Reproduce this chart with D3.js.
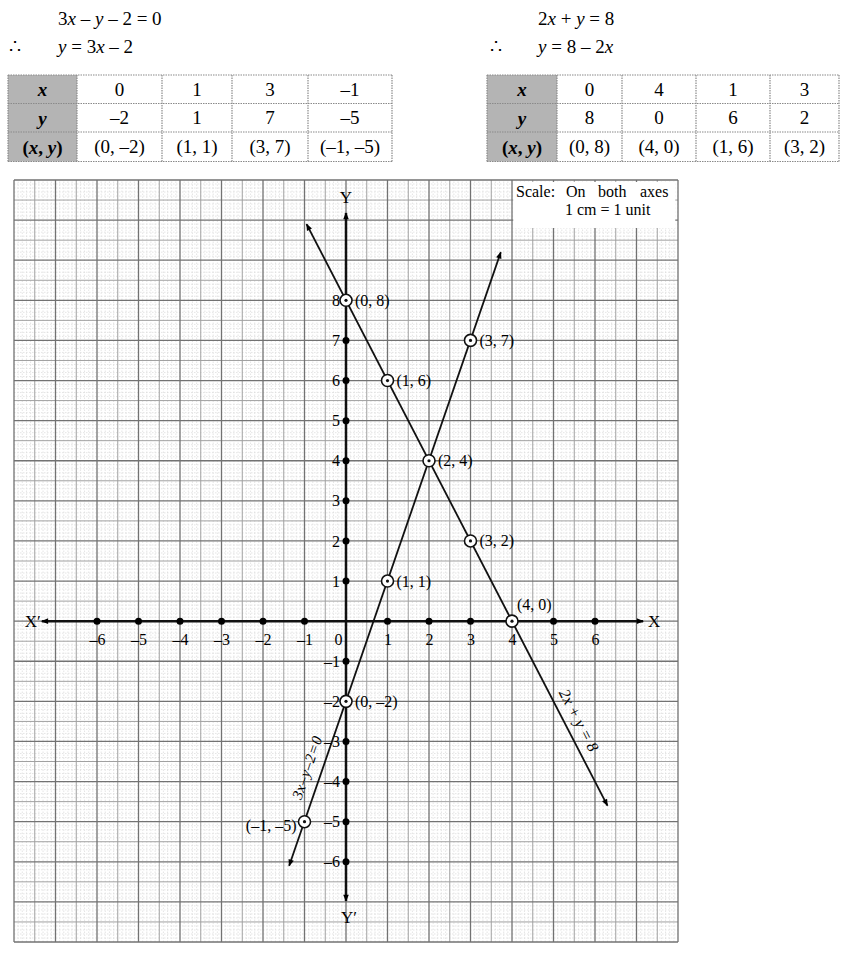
<!DOCTYPE html>
<html><head><meta charset="utf-8">
<script src="https://cdn.jsdelivr.net/npm/d3@7"></script>
<style>
body{margin:0;background:#fff;}
svg{display:block;font-family:"Liberation Serif","Times New Roman",serif;}
</style></head><body>
<svg id="c" width="864" height="955"></svg>
<script>
// ---------- data ----------
const eqLeft = ["3x – y – 2 = 0", "y = 3x – 2"];
const eqRight = ["2x + y = 8", "y = 8 – 2x"];
const rowHeaders = ["x", "y", "(x, y)"];
const table1X = [0, 1, 3, -1];
const table1Y = [-2, 1, 7, -5];
const table2X = [0, 4, 1, 3];
const table2Y = [8, 0, 6, 2];
const xTicks = [-6, -5, -4, -3, -2, -1, 0, 1, 2, 3, 4, 5, 6];
const yTicks = [-6, -5, -4, -3, -2, -1, 1, 2, 3, 4, 5, 6, 7, 8];
const line1Ends = [[-1.37, -6.1], [3.73, 9.2]];   // 3x - y - 2 = 0
const line2Ends = [[-0.95, 9.9], [6.3, -4.6]];    // 2x + y = 8
const line1Label = "3x – y – 2 = 0";
const line2Label = "2x + y = 8";
const plotted = [[0, 8], [1, 6], [3, 7], [2, 4], [3, 2], [1, 1], [4, 0], [0, -2], [-1, -5]];
const xAxisExtent = [-7.33, 7.16];
const yAxisExtent = [-6.98, 10.18];
const scaleText = ["Scale:", "On", "both", "axes"];
const scaleText2 = "1 cm = 1 unit";

// ---------- layout ----------
const fmt = v => v < 0 ? "–" + Math.abs(v) : String(v);
const svg = d3.select("#c");
const x = d3.scaleLinear().domain([-8, 8]).range([14, 678]);
const y = d3.scaleLinear().domain([-8, 11]).range([942, 180]);

function rich(sel, str) {
  str.split(/([xy])/).forEach(p => {
    if (!p) return;
    const t = sel.append("tspan").text(p);
    if (/^[xy]$/.test(p)) t.attr("font-style", "italic");
  });
}

// equations at top
const eqFont = 19;
function eqBlock(lines, therefX, textX) {
  const t1 = svg.append("text").attr("x", textX).attr("y", 25).attr("font-size", eqFont);
  rich(t1, lines[0]);
  svg.append("text").attr("x", therefX).attr("y", 53).attr("font-size", eqFont).text("∴");
  const t2 = svg.append("text").attr("x", textX).attr("y", 53).attr("font-size", eqFont);
  rich(t2, lines[1]);
}
eqBlock(eqLeft, 9, 58);
eqBlock(eqRight, 490, 538);

// tables
function drawTable(xs, ys, colEdges) {
  const rowEdges = [75, 103.5, 132, 161.5];
  const gT = svg.append("g");
  gT.append("rect").attr("x", colEdges[0]).attr("y", rowEdges[0])
    .attr("width", colEdges[1] - colEdges[0]).attr("height", rowEdges[3] - rowEdges[0])
    .attr("fill", "#b4b4b4");
  colEdges.forEach(cx => gT.append("line").attr("x1", cx).attr("x2", cx)
    .attr("y1", rowEdges[0]).attr("y2", rowEdges[3])
    .attr("stroke", "#8a8a8a").attr("stroke-width", 1.2).attr("stroke-dasharray", "1.5,1"));
  rowEdges.forEach(ry => gT.append("line").attr("x1", colEdges[0]).attr("x2", colEdges[colEdges.length - 1])
    .attr("y1", ry).attr("y2", ry)
    .attr("stroke", "#8a8a8a").attr("stroke-width", 1.2).attr("stroke-dasharray", "1.5,1"));
  const rows = [xs.map(fmt), ys.map(fmt), xs.map((v, i) => "(" + fmt(v) + ", " + fmt(ys[i]) + ")")];
  rows.forEach((r, ri) => {
    const cy = (rowEdges[ri] + rowEdges[ri + 1]) / 2;
    const h = gT.append("text").attr("x", (colEdges[0] + colEdges[1]) / 2).attr("y", cy)
      .attr("text-anchor", "middle").attr("dominant-baseline", "central")
      .attr("font-size", 19).attr("font-weight", "bold");
    rich(h, rowHeaders[ri]);
    r.forEach((s, ci) => {
      gT.append("text").attr("x", (colEdges[ci + 1] + colEdges[ci + 2]) / 2).attr("y", cy)
        .attr("text-anchor", "middle").attr("dominant-baseline", "central")
        .attr("font-size", 19).text(s);
    });
  });
}
drawTable(table1X, table1Y, [8, 77, 162, 232, 308, 392]);
drawTable(table2X, table2Y, [487, 557, 622, 696, 770, 839]);

// grid
const grid = svg.append("g");
const vIdx = d3.range(-80, 81), hIdx = d3.range(-80, 111);
const lvl = d => d % 10 === 0 ? 2 : (d % 5 === 0 ? 1 : 0);
const stroke = ["#dadada", "#a0a0a0", "#727272"];
const sw = [0.7, 1, 1.3];
[0, 1, 2].forEach(L => {
  grid.selectAll(null).data(vIdx.filter(d => lvl(d) === L)).join("line")
    .attr("x1", d => x(d / 10)).attr("x2", d => x(d / 10))
    .attr("y1", y(-8)).attr("y2", y(11))
    .attr("stroke", stroke[L]).attr("stroke-width", sw[L])
    .attr("stroke-dasharray", L === 0 ? "1.5,1.5" : null);
  grid.selectAll(null).data(hIdx.filter(d => lvl(d) === L)).join("line")
    .attr("y1", d => y(d / 10)).attr("y2", d => y(d / 10))
    .attr("x1", x(-8)).attr("x2", x(8))
    .attr("stroke", stroke[L]).attr("stroke-width", sw[L])
    .attr("stroke-dasharray", L === 0 ? "1.5,1.5" : null);
});

// scale box
svg.append("rect").attr("x", x(4.03)).attr("y", y(10.95)).attr("width", 162).attr("height", 46).attr("fill", "#fff");
const sPos = [516, 566, 598, 640];
scaleText.forEach((s, i) => svg.append("text").attr("x", sPos[i]).attr("y", 197).attr("font-size", 16).text(s));
svg.append("text").attr("x", 565).attr("y", 215).attr("font-size", 16).text(scaleText2);

// markers
const defs = svg.append("defs");
defs.append("marker").attr("id", "ah").attr("viewBox", "0 0 10 10").attr("refX", 9).attr("refY", 5)
  .attr("markerWidth", 9).attr("markerHeight", 7).attr("markerUnits", "userSpaceOnUse")
  .attr("orient", "auto-start-reverse")
  .append("path").attr("d", "M0,1L10,5L0,9Z").attr("fill", "#000");

// axes lines
svg.append("line").attr("x1", x(xAxisExtent[0])).attr("x2", x(xAxisExtent[1])).attr("y1", y(0)).attr("y2", y(0))
  .attr("stroke", "#111").attr("stroke-width", 2.5)
  .attr("marker-start", "url(#ah)").attr("marker-end", "url(#ah)");
svg.append("line").attr("y1", y(yAxisExtent[0])).attr("y2", y(yAxisExtent[1])).attr("x1", x(0)).attr("x2", x(0))
  .attr("stroke", "#111").attr("stroke-width", 2.5)
  .attr("marker-start", "url(#ah)").attr("marker-end", "url(#ah)");

// axis labels
svg.append("text").attr("x", x(xAxisExtent[0]) - 9).attr("y", y(0)).attr("text-anchor", "middle")
  .attr("dominant-baseline", "central").attr("font-size", 17).text("X′");
svg.append("text").attr("x", x(xAxisExtent[1]) + 11).attr("y", y(0)).attr("text-anchor", "middle")
  .attr("dominant-baseline", "central").attr("font-size", 17).text("X");
svg.append("text").attr("x", x(0)).attr("y", y(yAxisExtent[1]) - 15).attr("text-anchor", "middle")
  .attr("dominant-baseline", "central").attr("font-size", 17).text("Y");
svg.append("text").attr("x", x(0) + 3).attr("y", y(yAxisExtent[0]) + 16).attr("text-anchor", "middle")
  .attr("dominant-baseline", "central").attr("font-size", 17).text("Y′");

// tick labels through d3 axes
const xAxisG = svg.append("g").attr("transform", `translate(0,${y(0)})`)
  .call(d3.axisBottom(x).tickValues(xTicks).tickSize(0).tickPadding(12).tickFormat(fmt));
xAxisG.select(".domain").remove();
xAxisG.selectAll("text").attr("font-size", 16).attr("font-family", "Liberation Serif").attr("fill", "#000")
  .attr("dx", d => d === 0 ? -8 : 0);
const yAxisG = svg.append("g").attr("transform", `translate(${x(0)},0)`)
  .call(d3.axisLeft(y).tickValues(yTicks).tickSize(0).tickPadding(6).tickFormat(fmt));
yAxisG.select(".domain").remove();
yAxisG.selectAll("text").attr("font-size", 16).attr("font-family", "Liberation Serif").attr("fill", "#000");

// tick dots
svg.selectAll(null).data(xTicks.filter(d => d !== 0)).join("circle")
  .attr("cx", d => x(d)).attr("cy", y(0)).attr("r", 3.5).attr("fill", "#000");
svg.selectAll(null).data(yTicks).join("circle")
  .attr("cx", x(0)).attr("cy", d => y(d)).attr("r", 3.5).attr("fill", "#000");

// graph lines
const lineGen = d3.line().x(d => x(d[0])).y(d => y(d[1]));
[line1Ends, line2Ends].forEach(e => svg.append("path").attr("d", lineGen(e))
  .attr("stroke", "#111").attr("stroke-width", 1.8).attr("fill", "none")
  .attr("marker-start", "url(#ah)").attr("marker-end", "url(#ah)"));

// line labels
function lineLabel(ends, t, text, off, fs, ws) {
  const px = x(ends[0][0] + t * (ends[1][0] - ends[0][0]));
  const py = y(ends[0][1] + t * (ends[1][1] - ends[0][1]));
  const dx = x(ends[1][0]) - x(ends[0][0]), dy = y(ends[1][1]) - y(ends[0][1]);
  let ang = Math.atan2(dy, dx) * 180 / Math.PI;
  if (ang < -90) ang += 180;
  const a = ang * Math.PI / 180;
  const nx = Math.sin(a), ny = -Math.cos(a);
  svg.append("text").attr("transform", `translate(${px + nx * off},${py + ny * off}) rotate(${ang})`)
    .attr("text-anchor", "middle").attr("dominant-baseline", "central").attr("font-size", fs)
    .attr("word-spacing", ws).attr("font-style", "italic").text(text);
}
lineLabel(line1Ends, 0.152, line1Label, 15, 15, -3);
lineLabel(line2Ends, 0.864, line2Label, 14, 16, 0);

// plotted points
const labelLayout = {
  "0,8": [9, 0, "start"], "1,6": [9, 0, "start"], "3,7": [9, 0, "start"], "2,4": [9, 0, "start"],
  "3,2": [9, 0, "start"], "1,1": [9, 0, "start"], "4,0": [5, -17, "start"], "0,-2": [9, 0, "start"],
  "-1,-5": [-8, 4, "end"]
};
const pg = svg.selectAll(null).data(plotted).join("g")
  .attr("transform", d => `translate(${x(d[0])},${y(d[1])})`);
pg.append("circle").attr("r", 6).attr("fill", "#fff").attr("stroke", "#111").attr("stroke-width", 1.6);
pg.append("circle").attr("r", 1.6).attr("fill", "#111");
pg.append("text").attr("x", d => labelLayout[d.join(",")][0]).attr("y", d => labelLayout[d.join(",")][1])
  .attr("text-anchor", d => labelLayout[d.join(",")][2]).attr("dominant-baseline", "central")
  .attr("font-size", 16).text(d => "(" + fmt(d[0]) + ", " + fmt(d[1]) + ")");
</script>
</body></html>
